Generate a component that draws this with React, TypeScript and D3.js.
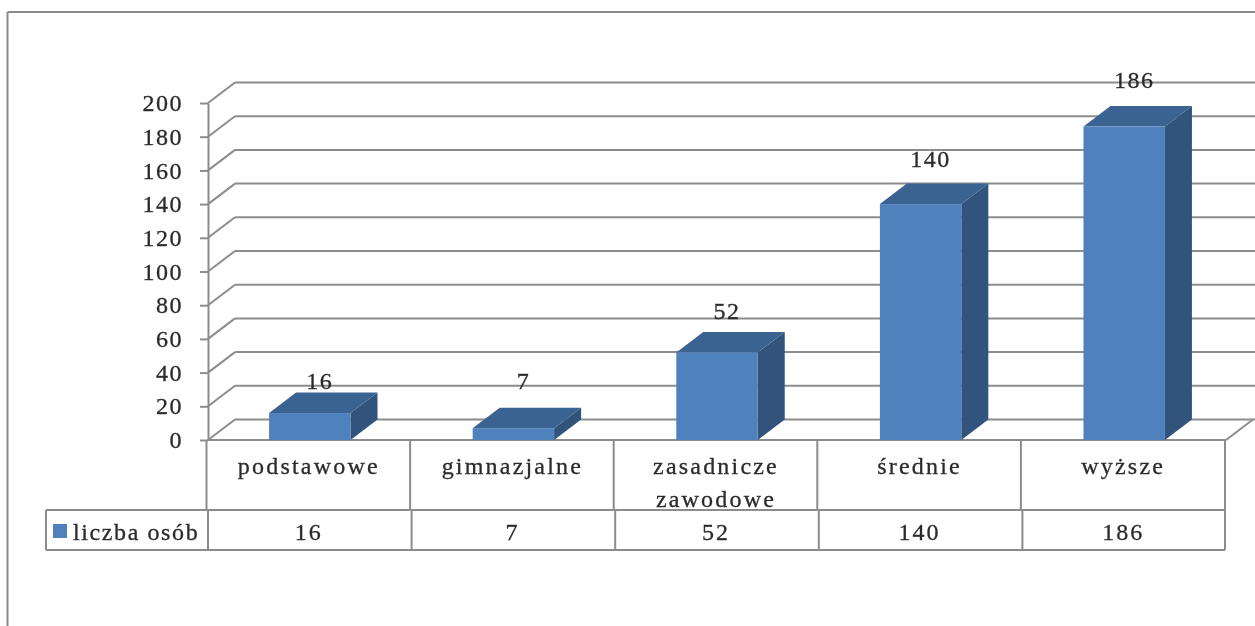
import { useEffect, useRef } from "react";
import * as d3 from "d3";

const categories = ["podstawowe", "gimnazjalne", "zasadnicze zawodowe", "średnie", "wyższe"];
const values = [16, 7, 52, 140, 186];
const seriesName = "liczba osób";
const yTicks = [0, 20, 40, 60, 80, 100, 120, 140, 160, 180, 200];
// the value labels were nudged by hand in the original
const labelGaps = [32, 47, 41, 45, 47];

const FONT = "'Liberation Serif', serif";
const GRID = "#8c8c8c";
const TEXT = "#2b2b2b";

const App = () => {
  const ref = useRef(null);

  useEffect(() => {
    const svg = d3.select(ref.current);
    svg.selectAll("*").remove();

    const depth = { x: 27, y: 20.5 };
    const plot = { left: 208, right: 1226, top: 103, bottom: 440 };
    const rows = { first: 510, second: 550 };
    const legendLeft = 46;

    const y = d3.scaleLinear().domain([0, 200]).range([plot.bottom, plot.top]);
    const x = d3
      .scaleBand()
      .domain(categories)
      .range([plot.left, plot.right])
      .paddingInner(0.6)
      .paddingOuter(0.3);
    const cell = d3.scaleBand().domain(categories).range([plot.left, plot.right]);

    const root = svg.append("g").attr("filter", "url(#soft)");
    svg
      .append("defs")
      .append("filter")
      .attr("id", "soft")
      .append("feGaussianBlur")
      .attr("stdDeviation", 0.5);

    const line = (x1: number, y1: number, x2: number, y2: number, w = 2) =>
      root
        .append("line")
        .attr("x1", x1)
        .attr("y1", y1)
        .attr("x2", x2)
        .attr("y2", y2)
        .attr("stroke", GRID)
        .attr("stroke-width", w);

    const text = (t: string, tx: number, ty: number, anchor = "middle", spacing = 1.5) =>
      root
        .append("text")
        .attr("x", tx)
        .attr("y", ty)
        .attr("text-anchor", anchor)
        .attr("font-family", FONT)
        .attr("font-size", 24)
        .attr("letter-spacing", spacing)
        .attr("fill", TEXT)
        .attr("stroke", TEXT)
        .attr("stroke-width", 0.3)
        .text(t);

    // Outer chart frame, cut off by the screenshot
    line(7.5, 12, 1255, 12);
    line(7.5, 12, 7.5, 626);

    // Back wall gridlines with their diagonal returns
    yTicks.forEach((t) => {
      line(plot.left, y(t), plot.left + depth.x, y(t) - depth.y);
      line(plot.left + depth.x, y(t) - depth.y, 1255, y(t) - depth.y);
    });

    // Floor
    line(plot.left, y(0), plot.right, y(0));
    line(plot.right, y(0), plot.right + depth.x, y(0) - depth.y);

    // Y axis
    const axis = root
      .append("g")
      .attr("transform", `translate(${plot.left},0)`)
      .call(d3.axisLeft(y).tickValues(yTicks).tickSize(8).tickPadding(17).tickSizeOuter(0));
    axis.selectAll("path, line").attr("stroke", GRID).attr("stroke-width", 2);
    axis
      .selectAll("text")
      .attr("font-family", FONT)
      .attr("font-size", 24)
      .attr("letter-spacing", 1.5)
      .attr("fill", TEXT)
      .attr("stroke", TEXT)
      .attr("stroke-width", 0.3);

    // Bars
    categories.forEach((c, i) => {
      const x0 = x(c)!;
      const x1 = x0 + x.bandwidth();
      const top = y(values[i]);
      const base = y(0);
      root
        .append("polygon")
        .attr(
          "points",
          [[x1, top], [x1 + depth.x, top - depth.y], [x1 + depth.x, base - depth.y], [x1, base]].join(" "),
        )
        .attr("fill", "#30527c");
      root
        .append("polygon")
        .attr(
          "points",
          [[x0, top], [x0 + depth.x, top - depth.y], [x1 + depth.x, top - depth.y], [x1, top]].join(" "),
        )
        .attr("fill", "#3b6392");
      root
        .append("rect")
        .attr("x", x0)
        .attr("y", top)
        .attr("width", x.bandwidth())
        .attr("height", base - top)
        .attr("fill", "#4f81bd");
      text(String(values[i]), x0 + x.bandwidth() / 2 + 10, top - labelGaps[i] + 8);
    });

    // Data table
    categories.forEach((c) => {
      const left = cell(c)!;
      line(left - 1.5, plot.bottom, left - 1.5, rows.first);
      line(left, rows.first, left, rows.second);
    });
    line(plot.right - 1, plot.bottom, plot.right - 1, rows.second);
    line(legendLeft, rows.first, plot.right - 1, rows.first);
    line(legendLeft, rows.second, plot.right - 1, rows.second);
    line(legendLeft, rows.first, legendLeft, rows.second);

    categories.forEach((c, i) => {
      const mid = cell(c)! + cell.bandwidth() / 2 - 1;
      const words = c.length > 12 ? c.split(" ") : [c];
      words.forEach((w, j) => text(w, mid, 474 + j * 33, "middle", 2.2));
      text(String(values[i]), mid, 540, "middle", 2);
    });

    root
      .append("rect")
      .attr("x", 53)
      .attr("y", 524)
      .attr("width", 14)
      .attr("height", 14)
      .attr("fill", "#4f81bd");
    text(seriesName, 73, 540, "start", 1.6);
  }, []);

  return (
    <svg
      ref={ref}
      width={1255}
      height={626}
      style={{ position: "absolute", left: 0, top: 0, background: "#fff" }}
    />
  );
};

export default App;
